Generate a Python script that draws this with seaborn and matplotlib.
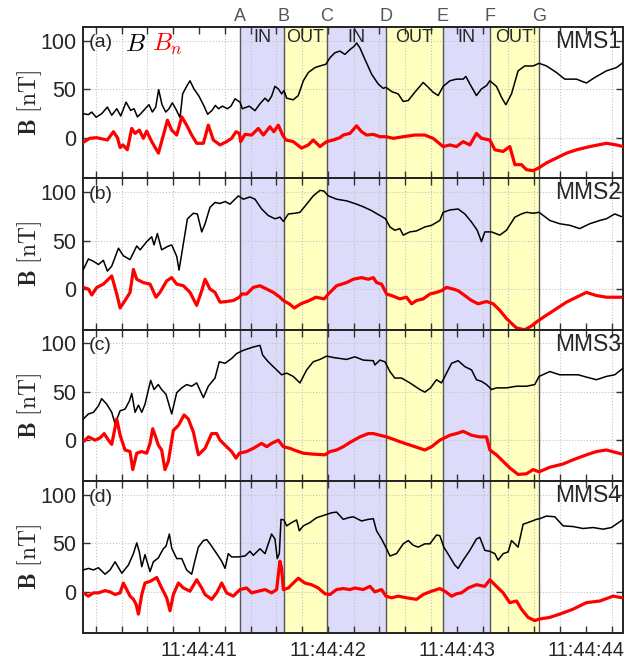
import numpy as np
import pandas as pd
import matplotlib
matplotlib.use('Agg')
import matplotlib.pyplot as plt
import seaborn as sns
from matplotlib.ticker import MultipleLocator, FixedLocator, FixedFormatter
import matplotlib.transforms as mtransforms

sns.set_style('ticks')
plt.rcParams['font.family'] = ['Liberation Sans', 'DejaVu Sans']
plt.rcParams['mathtext.fontset'] = 'cm'

# ---------------- data (time in seconds after 11:44:00) ----------------
boundary_times = [41.318, 41.659, 41.990, 42.450, 42.891, 43.256, 43.638]
boundary_labels = ['A', 'B', 'C', 'D', 'E', 'F', 'G']
region_labels = ['IN', 'OUT', 'IN', 'OUT', 'IN', 'OUT']
xtick_values = [41, 42, 43, 44]
xtick_labels = ['11:44:41', '11:44:42', '11:44:43', '11:44:44']
panel_tags = ['(a)', '(b)', '(c)', '(d)']
spacecraft = ['MMS1', 'MMS2', 'MMS3', 'MMS4']

# Panel (a) MMS1
t_B1 = [40.103, 40.142, 40.168, 40.202, 40.245, 40.289, 40.323, 40.362, 40.393, 40.434, 40.470, 40.496,
        40.522, 40.548, 40.587, 40.612, 40.638, 40.664, 40.687, 40.713, 40.742, 40.767, 40.793, 40.819,
        40.853, 40.873, 40.904, 40.930, 40.961, 41.000, 41.039, 41.067, 41.101, 41.127, 41.152, 41.181,
        41.220, 41.248, 41.279, 41.318, 41.336, 41.390, 41.434, 41.473, 41.512, 41.537, 41.563, 41.589,
        41.615, 41.641, 41.659, 41.680, 41.731, 41.770, 41.809, 41.848, 41.899, 41.938, 41.984, 42.016,
        42.054, 42.093, 42.132, 42.171, 42.204, 42.222, 42.248, 42.287, 42.339, 42.390, 42.429, 42.450,
        42.494, 42.545, 42.584, 42.623, 42.674, 42.739, 42.778, 42.816, 42.855, 42.894, 42.946, 42.997,
        43.049, 43.070, 43.101, 43.152, 43.191, 43.230, 43.256, 43.307, 43.346, 43.380, 43.424, 43.475,
        43.527, 43.592, 43.638, 43.695, 43.773, 43.837, 43.928, 44.005, 44.070, 44.160, 44.238, 44.289]
B1 = [24.7, 23.7, 26.4, 21.0, 24.7, 31.5, 23.1, 29.8, 22.4, 36.6, 28.1, 29.8,
      21.4, 24.7, 30.5, 33.9, 26.4, 31.5, 49.5, 33.9, 26.4, 29.8, 35.9, 29.8,
      20.7, 45.1, 52.9, 58.6, 50.2, 42.7, 32.5, 24.1, 28.1, 33.2, 29.8, 32.5,
      29.8, 32.5, 40.0, 36.6, 29.8, 32.5, 27.8, 34.9, 40.7, 37.3, 42.7, 52.9,
      50.2, 45.1, 48.5, 40.7, 39.0, 43.4, 58.6, 67.1, 72.2, 73.9, 75.6, 82.4,
      87.5, 89.2, 85.8, 90.8, 94.2, 97.6, 92.5, 80.7, 65.4, 55.3, 50.8, 51.9,
      47.5, 45.1, 37.3, 38.3, 46.8, 56.9, 51.9, 46.8, 43.4, 52.9, 58.6, 60.3,
      60.3, 63.1, 55.3, 43.4, 50.2, 53.6, 58.6, 52.9, 41.7, 33.9, 45.1, 68.8,
      73.9, 73.9, 76.6, 73.9, 67.1, 60.3, 60.3, 56.3, 62.0, 68.8, 72.2, 77.3]
t_Bn1 = [40.103, 40.152, 40.204, 40.289, 40.336, 40.367, 40.388, 40.410, 40.444, 40.478, 40.504, 40.537,
         40.568, 40.594, 40.633, 40.685, 40.724, 40.755, 40.788, 40.827, 40.866, 40.904, 40.943, 40.982,
         41.034, 41.072, 41.111, 41.163, 41.214, 41.253, 41.287, 41.313, 41.323, 41.357, 41.408, 41.460,
         41.499, 41.550, 41.581, 41.615, 41.649, 41.674, 41.731, 41.796, 41.848, 41.886, 41.938, 41.990,
         42.041, 42.093, 42.119, 42.171, 42.222, 42.261, 42.300, 42.351, 42.403, 42.450, 42.507, 42.584,
         42.674, 42.752, 42.816, 42.894, 42.946, 42.997, 43.049, 43.101, 43.152, 43.191, 43.256, 43.295,
         43.359, 43.411, 43.450, 43.501, 43.540, 43.592, 43.638, 43.695, 43.773, 43.850, 43.928, 44.031,
         44.160, 44.238, 44.289]
Bn1 = [-4.7, -0.7, 0.0, -2.4, 6.1, 0.0, -10.2, -7.5, -12.5, 9.5, 4.4, 7.8,
       -0.7, 6.8, -4.1, -15.9, 2.7, 18.0, 7.8, 2.7, 21.4, 12.9, 2.7, -5.8,
       -5.8, 12.9, -2.4, -7.5, -4.1, -0.7, 6.1, 4.4, -4.1, 3.4, 2.7, 9.5,
       2.7, 11.2, 6.1, 12.9, 2.7, -2.4, -4.1, -10.8, -7.5, -2.4, -9.2, -4.1,
       -2.4, 0.0, 2.7, 4.4, 12.2, 6.1, 2.7, 3.4, 1.0, 1.0, -0.7, 1.0,
       2.7, 2.7, -0.7, -9.2, -7.5, -9.2, -4.1, -7.5, 4.4, -0.7, -2.4, -12.5,
       -14.2, -9.2, -27.8, -27.8, -33.0, -34.0, -31.0, -26.0, -21.0, -16.0, -12.5, -9.2,
       -5.8, -7.5, -9.2]

# Panel (b) MMS2
t_B2 = [40.103, 40.142, 40.181, 40.220, 40.258, 40.289, 40.323, 40.375, 40.413, 40.465, 40.517, 40.543,
        40.594, 40.633, 40.651, 40.677, 40.710, 40.755, 40.788, 40.827, 40.845, 40.879, 40.910, 40.956,
        40.987, 41.021, 41.047, 41.085, 41.124, 41.163, 41.202, 41.240, 41.279, 41.305, 41.344, 41.395,
        41.434, 41.486, 41.537, 41.589, 41.628, 41.654, 41.693, 41.744, 41.783, 41.835, 41.886, 41.938,
        41.969, 42.003, 42.067, 42.145, 42.222, 42.274, 42.339, 42.403, 42.447, 42.481, 42.519, 42.558,
        42.584, 42.636, 42.687, 42.752, 42.804, 42.868, 42.894, 42.946, 43.010, 43.062, 43.114, 43.158,
        43.191, 43.217, 43.269, 43.333, 43.385, 43.450, 43.501, 43.540, 43.592, 43.638, 43.721, 43.798,
        43.876, 43.953, 44.031, 44.109, 44.160, 44.225, 44.276]
B2 = [20.2, 31.0, 28.6, 25.3, 29.6, 18.5, 23.6, 42.1, 34.3, 30.3, 44.4, 40.4,
      48.8, 53.9, 45.5, 57.2, 40.4, 43.8, 45.5, 33.7, 19.5, 47.1, 72.4, 78.1,
      77.4, 58.9, 67.3, 84.2, 89.2, 88.2, 90.2, 87.5, 92.6, 96.0, 92.6, 94.9,
      92.6, 82.5, 75.8, 72.4, 74.1, 69.7, 77.4, 78.1, 79.1, 87.5, 96.0, 101.7,
      101.0, 96.0, 92.6, 90.9, 87.5, 84.8, 80.8, 75.8, 72.4, 64.0, 60.6, 62.3,
      55.6, 58.9, 59.9, 64.0, 65.7, 70.7, 79.1, 81.5, 82.5, 77.4, 69.0, 60.6,
      48.8, 58.9, 58.9, 55.6, 60.6, 74.1, 77.4, 79.1, 78.1, 79.1, 70.7, 67.3,
      65.7, 62.3, 67.3, 70.7, 72.4, 77.4, 74.7]
t_Bn2 = [40.103, 40.142, 40.168, 40.207, 40.258, 40.323, 40.362, 40.388, 40.426, 40.465, 40.491, 40.517,
         40.568, 40.620, 40.666, 40.697, 40.749, 40.788, 40.827, 40.879, 40.930, 40.982, 41.021, 41.047,
         41.085, 41.124, 41.163, 41.214, 41.266, 41.313, 41.331, 41.369, 41.421, 41.473, 41.525, 41.576,
         41.628, 41.654, 41.700, 41.739, 41.790, 41.855, 41.907, 41.971, 42.003, 42.067, 42.145, 42.196,
         42.261, 42.313, 42.352, 42.377, 42.416, 42.455, 42.494, 42.558, 42.610, 42.649, 42.687, 42.739,
         42.791, 42.842, 42.881, 42.920, 42.972, 43.010, 43.062, 43.114, 43.165, 43.230, 43.282, 43.333,
         43.385, 43.437, 43.463, 43.527, 43.579, 43.617, 43.638, 43.695, 43.773, 43.850, 43.928, 44.005,
         44.083, 44.160, 44.276]
Bn2 = [1.7, 0.0, -6.1, 1.7, 5.1, 13.5, -5.1, -19.5, -11.8, -3.4, 20.2, 10.1,
       6.7, 5.1, -8.4, -3.4, 8.4, 11.8, 5.1, 3.4, -3.4, -16.8, -1.7, 10.1,
       0.0, -3.4, -13.5, -12.8, -11.8, -8.4, -5.1, -5.1, 1.7, 3.4, 0.0, -3.4,
       -8.4, -11.8, -15.2, -19.5, -15.2, -11.8, -8.4, -10.1, -5.1, 3.4, 6.7, 10.1,
       11.8, 10.1, 11.8, 6.7, 5.1, -5.1, -6.7, -10.1, -8.4, -15.2, -11.8, -10.1,
       -5.1, -3.4, -1.7, 1.7, 0.0, -1.7, -6.7, -11.8, -15.2, -12.8, -15.2, -21.9,
       -30.3, -37.0, -40.0, -42.0, -38.0, -34.0, -32.0, -26.9, -20.2, -13.5, -8.4, -3.4,
       -6.7, -8.4, -8.4]

# Panel (c) MMS3
t_B3 = [40.103, 40.142, 40.181, 40.220, 40.245, 40.284, 40.323, 40.349, 40.388, 40.426, 40.460, 40.478,
        40.504, 40.530, 40.556, 40.581, 40.625, 40.651, 40.684, 40.710, 40.744, 40.788, 40.827, 40.866,
        40.904, 40.943, 40.982, 41.034, 41.072, 41.124, 41.157, 41.202, 41.253, 41.292, 41.344, 41.382,
        41.421, 41.473, 41.494, 41.537, 41.589, 41.641, 41.680, 41.731, 41.783, 41.835, 41.886, 41.938,
        41.990, 42.041, 42.093, 42.145, 42.209, 42.274, 42.352, 42.364, 42.403, 42.442, 42.481, 42.519,
        42.571, 42.636, 42.713, 42.752, 42.796, 42.842, 42.881, 42.907, 42.959, 43.010, 43.062, 43.114,
        43.152, 43.191, 43.230, 43.269, 43.307, 43.385, 43.463, 43.540, 43.604, 43.638, 43.721, 43.798,
        43.876, 43.941, 44.005, 44.083, 44.160, 44.225, 44.289]
B3 = [22.2, 27.3, 29.0, 35.7, 43.1, 37.4, 29.0, 17.2, 30.6, 32.3, 40.7, 48.5,
      29.0, 36.4, 29.0, 37.4, 62.0, 52.5, 57.6, 52.5, 47.5, 27.3, 49.2, 54.2,
      57.6, 55.9, 59.3, 44.1, 55.9, 64.3, 81.1, 79.5, 84.5, 89.6, 92.9, 94.6,
      96.3, 98.0, 87.9, 81.1, 74.4, 67.7, 69.4, 66.0, 59.3, 72.7, 81.1, 83.5,
      86.9, 85.5, 84.5, 83.5, 86.2, 82.8, 82.2, 77.8, 82.8, 81.1, 71.0, 64.3,
      64.3, 59.3, 52.5, 49.8, 54.2, 62.6, 59.3, 66.0, 79.5, 82.2, 76.1, 72.7,
      62.6, 60.9, 57.6, 52.5, 54.2, 54.2, 55.9, 55.9, 57.6, 66.0, 71.0, 67.7,
      67.7, 67.7, 65.3, 62.6, 66.0, 67.7, 74.4]
t_Bn3 = [40.103, 40.142, 40.194, 40.233, 40.264, 40.297, 40.323, 40.362, 40.388, 40.426, 40.465, 40.486,
         40.517, 40.556, 40.594, 40.620, 40.641, 40.659, 40.684, 40.710, 40.736, 40.762, 40.801, 40.840,
         40.884, 40.917, 40.956, 40.995, 41.047, 41.098, 41.137, 41.163, 41.214, 41.253, 41.287, 41.313,
         41.369, 41.421, 41.486, 41.525, 41.563, 41.615, 41.654, 41.705, 41.757, 41.809, 41.886, 41.977,
         42.016, 42.067, 42.119, 42.171, 42.248, 42.313, 42.352, 42.403, 42.455, 42.507, 42.558, 42.636,
         42.713, 42.752, 42.804, 42.868, 42.894, 42.946, 42.997, 43.049, 43.114, 43.178, 43.230, 43.256,
         43.307, 43.359, 43.411, 43.475, 43.540, 43.592, 43.638, 43.721, 43.824, 43.902, 44.005, 44.083,
         44.160, 44.284]
Bn3 = [-1.3, 3.7, 0.3, 2.7, 7.1, 0.3, -4.0, 22.2, 5.4, -9.8, -11.4, -30.0,
       -13.1, -11.4, -13.1, -3.0, 12.1, 5.4, -4.7, -9.8, -30.0, -21.5, 10.4, 15.5,
       26.3, 22.2, 8.8, -14.8, -8.1, 7.1, 7.1, 0.3, -6.4, -11.4, -18.2, -13.1,
       -11.4, -8.1, -3.0, -6.4, -3.0, 0.3, -6.4, -8.1, -10.8, -13.1, -14.1, -14.8,
       -11.4, -9.8, -6.4, -2.0, 3.7, 7.1, 7.1, 5.4, 3.7, 1.3, -1.3, -4.7,
       -8.1, -9.8, -6.4, 0.3, 2.0, 5.4, 7.1, 9.4, 5.4, 3.7, 3.7, -9.8,
       -14.8, -21.5, -28.3, -35.0, -34.3, -30.0, -32.3, -27.6, -24.2, -19.9, -14.8, -11.4,
       -9.8, -14.1]

# Panel (d) MMS4
t_B4 = [40.103, 40.142, 40.181, 40.220, 40.271, 40.310, 40.349, 40.401, 40.452, 40.491, 40.517, 40.537,
        40.556, 40.581, 40.620, 40.646, 40.684, 40.723, 40.744, 40.770, 40.788, 40.827, 40.866, 40.904,
        40.943, 40.969, 40.995, 41.034, 41.060, 41.098, 41.137, 41.176, 41.202, 41.227, 41.253, 41.305,
        41.357, 41.395, 41.421, 41.473, 41.512, 41.563, 41.589, 41.607, 41.623, 41.636, 41.659, 41.680,
        41.718, 41.757, 41.778, 41.809, 41.860, 41.912, 41.951, 41.990, 42.028, 42.067, 42.119, 42.158,
        42.196, 42.261, 42.313, 42.352, 42.377, 42.416, 42.455, 42.481, 42.532, 42.584, 42.623, 42.661,
        42.700, 42.752, 42.791, 42.842, 42.868, 42.899, 42.946, 42.984, 43.010, 43.049, 43.101, 43.152,
        43.178, 43.217, 43.256, 43.295, 43.320, 43.359, 43.398, 43.424, 43.450, 43.475, 43.514, 43.566,
        43.617, 43.643, 43.695, 43.760, 43.824, 43.902, 43.979, 44.057, 44.134, 44.199, 44.284]
B4 = [22.6, 24.2, 22.6, 24.9, 18.2, 22.6, 31.0, 19.2, 27.6, 39.4, 50.5, 41.1,
      25.9, 38.4, 20.9, 31.0, 35.0, 44.4, 47.1, 59.6, 45.1, 34.3, 34.3, 22.6,
      18.2, 32.7, 46.1, 52.9, 53.9, 47.1, 39.4, 31.6, 24.2, 39.4, 36.0, 36.0,
      37.0, 41.8, 37.7, 44.4, 39.4, 59.6, 54.5, 34.3, 39.4, 74.7, 74.1, 68.0,
      71.4, 74.1, 63.0, 68.0, 71.4, 76.4, 78.1, 79.8, 81.5, 82.2, 74.7, 76.4,
      77.4, 73.1, 74.7, 75.4, 63.0, 54.5, 44.4, 37.0, 39.4, 49.5, 52.9, 48.1,
      46.1, 49.5, 49.5, 58.6, 57.9, 46.1, 36.0, 27.6, 24.2, 32.7, 42.8, 54.5,
      56.2, 42.8, 41.8, 39.4, 32.7, 39.4, 41.1, 52.9, 49.5, 46.1, 69.7, 72.1,
      74.7, 75.4, 78.1, 77.4, 68.0, 67.3, 65.3, 66.3, 64.6, 66.3, 74.1]
t_Bn4 = [40.103, 40.142, 40.181, 40.220, 40.271, 40.310, 40.349, 40.388, 40.413, 40.439, 40.465, 40.491,
         40.512, 40.530, 40.556, 40.581, 40.620, 40.672, 40.710, 40.749, 40.775, 40.801, 40.840, 40.879,
         40.930, 40.982, 41.021, 41.047, 41.098, 41.137, 41.176, 41.214, 41.266, 41.318, 41.369, 41.408,
         41.460, 41.512, 41.563, 41.602, 41.615, 41.628, 41.641, 41.654, 41.693, 41.731, 41.770, 41.821,
         41.873, 41.925, 41.977, 42.016, 42.067, 42.119, 42.171, 42.209, 42.274, 42.326, 42.364, 42.416,
         42.450, 42.494, 42.545, 42.610, 42.687, 42.739, 42.804, 42.868, 42.907, 42.959, 42.997, 43.036,
         43.088, 43.152, 43.217, 43.256, 43.307, 43.359, 43.411, 43.463, 43.501, 43.553, 43.604, 43.643,
         43.721, 43.798, 43.902, 44.005, 44.109, 44.212, 44.284]
Bn4 = [-1.0, -4.4, -1.0, -1.0, 1.3, 0.0, -2.7, -1.0, 9.1, 2.4, -4.4, -7.7,
       -12.8, -22.9, -2.7, 9.1, 10.8, 14.8, 4.0, -6.1, -19.5, -2.7, 9.1, 4.0,
       0.7, 12.5, 4.0, -2.7, -7.7, -1.0, 9.1, -1.0, -4.4, 2.4, 4.0, -1.0,
       0.7, 2.4, -1.0, 2.4, 17.5, 31.6, 24.2, 2.4, 4.0, 9.1, 14.1, 9.1,
       7.4, 4.0, -2.0, -2.7, 2.4, 3.4, 2.4, 4.0, 2.4, 5.7, 0.0, 2.4,
       -4.4, -6.1, -4.4, -6.1, -7.7, -2.7, 0.7, 3.4, 0.7, -4.4, -2.0, -1.0,
       4.0, 7.4, 5.7, 12.5, 5.7, -1.0, -11.1, -9.4, -17.8, -26.3, -29.6, -27.9,
       -26.3, -22.9, -17.8, -11.1, -9.4, -4.4, -6.1]

B_times = [t_B1, t_B2, t_B3, t_B4]
B_vals = [B1, B2, B3, B4]
Bn_times = [t_Bn1, t_Bn2, t_Bn3, t_Bn4]
Bn_vals = [Bn1, Bn2, Bn3, Bn4]

# ---------------- styling ----------------
region_colors = ['#dcdcfa', '#ffffc0', '#dcdcfa', '#ffffc0', '#dcdcfa', '#ffffc0']
xlim = (40.101, 44.285)
ylim = (-42, 114)

fig, axes = plt.subplots(4, 1, figsize=(6.25, 6.59), dpi=100, sharex=True)
fig.subplots_adjust(left=0.133, right=0.996, top=0.959, bottom=0.04, hspace=0)

for i, ax in enumerate(axes):
    for k in range(len(region_labels)):
        ax.axvspan(boundary_times[k], boundary_times[k + 1], color=region_colors[k], lw=0, zorder=0)
    for tb in boundary_times:
        ax.axvline(tb, color='#555555', lw=1.0, zorder=1)

    df_B = pd.DataFrame({'t': B_times[i], 'v': B_vals[i]})
    df_Bn = pd.DataFrame({'t': Bn_times[i], 'v': Bn_vals[i]})
    sns.lineplot(data=df_B, x='t', y='v', ax=ax, color='black', lw=1.1,
                 estimator=None, sort=False, legend=False, zorder=3)
    sns.lineplot(data=df_Bn, x='t', y='v', ax=ax, color='#ff0000', lw=2.3,
                 estimator=None, sort=False, legend=False, zorder=4)

    ax.set_xlim(*xlim)
    ax.set_ylim(*ylim)
    ax.xaxis.set_major_locator(FixedLocator(xtick_values))
    ax.xaxis.set_major_formatter(FixedFormatter(xtick_labels))
    ax.xaxis.set_minor_locator(MultipleLocator(0.2))
    ax.yaxis.set_major_locator(MultipleLocator(50))
    ax.grid(which='minor', axis='x', ls=':', color='#c4c4c4', lw=0.8)
    ax.grid(which='major', axis='y', ls=':', color='#c4c4c4', lw=0.8)
    ax.tick_params(which='both', direction='in', top=True, right=True, length=5, width=1.0,
                   color='#333333')
    ax.tick_params(axis='y', labelsize=15.5, pad=5)
    ax.tick_params(axis='x', labelsize=14.5, pad=6)
    for sp in ax.spines.values():
        sp.set_linewidth(1.4)
        sp.set_color('#222222')
    ax.set_xlabel('')
    ax.set_ylabel(r'$\mathbf{B}\ [\mathrm{nT}]$', fontsize=17)
    ax.yaxis.set_label_coords(-0.072, 0.5)

    ax.text(0.011, 0.895, panel_tags[i], transform=ax.transAxes, ha='left', va='center',
            fontsize=14, zorder=6)
    ax.text(0.997, 0.905, spacecraft[i], transform=ax.transAxes, ha='right', va='center',
            fontsize=16.5, zorder=6)
    if i < 3:
        ax.tick_params(axis='x', labelbottom=False)

# legend-like label in panel (a)
ax0 = axes[0]
ax0.text(0.078, 0.885, r'$B$', transform=ax0.transAxes, ha='left', va='center', fontsize=18,
         color='black', zorder=6)
ax0.text(0.127, 0.885, r'$B_n$', transform=ax0.transAxes, ha='left', va='center', fontsize=18,
         color='#ff0000', zorder=6)

# region labels IN/OUT
trans = mtransforms.blended_transform_factory(ax0.transData, ax0.transAxes)
for k, lab in enumerate(region_labels):
    xc = 0.5 * (boundary_times[k] + boundary_times[k + 1])
    ax0.text(xc, 0.93, lab, transform=trans, ha='center', va='center', fontsize=13, zorder=6)
# boundary letters
for tb, lab in zip(boundary_times, boundary_labels):
    ax0.text(tb, 1.072, lab, transform=trans, ha='center', va='center', fontsize=13,
             color='#555555', clip_on=False)

fig.savefig('out.png', dpi=100)
